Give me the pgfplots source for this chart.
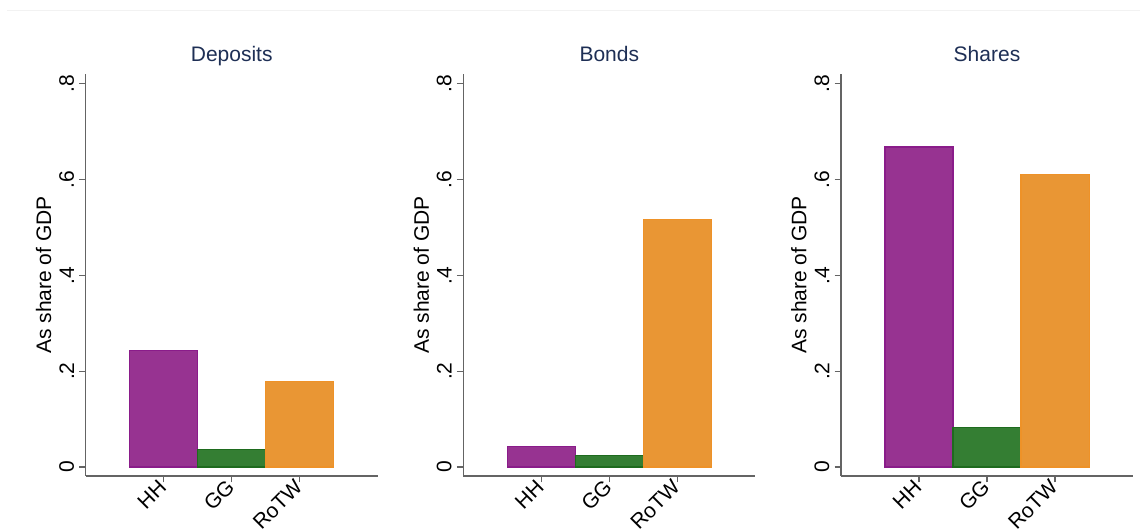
\documentclass[border=0pt]{standalone}
\usepackage{pgfplots}
\pgfplotsset{compat=1.18}
\usepackage{fontspec}
\setmainfont{Liberation Sans}

\definecolor{hhfill}{RGB}{151,51,145}
\definecolor{hhedge}{RGB}{138,28,138}
\definecolor{ggfill}{RGB}{52,126,51}
\definecolor{ggedge}{RGB}{30,107,30}
\definecolor{rwfill}{RGB}{233,150,52}
\definecolor{rwedge}{RGB}{238,146,40}
\definecolor{axisgray}{RGB}{100,100,100}
\definecolor{titlenavy}{RGB}{30,47,85}

\newcommand{\fs}{\fontsize{21pt}{25pt}\selectfont}

\pgfplotsset{
  panel/.style={
    scale only axis,
    anchor=south west,
    width=292pt, height=402pt,
    xmin=-1.145, xmax=3.145,
    ymin=-0.0188, ymax=0.8205,
    axis x line*=bottom, axis y line*=left,
    axis line style={axisgray, line width=1.3pt, -},
    xtick={0,1,2}, xticklabels={HH,GG,RoTW},
    ytick={0,0.2,0.4,0.6,0.8}, yticklabels={0,.2,.4,.6,.8},
    tick align=outside,
    major tick length=6.5pt,
    tick style={axisgray, line width=1.3pt},
    xticklabel style={rotate=45, anchor=east, font=\fs, inner sep=1.5pt},
    yticklabel style={rotate=90, anchor=south, font=\fs, inner sep=5pt},
    ylabel={As share of GDP},
    ylabel style={at={(axis description cs:-0.144,0.5)}, anchor=center, font=\fs},
    title style={at={(0.5,1)}, anchor=base, yshift=6pt, color=titlenavy, font=\fs},
    ybar, bar shift=0pt, bar width=1,
  },
  hh/.style={fill=hhfill, draw=hhedge, line width=1.2pt},
  gg/.style={fill=ggfill, draw=ggedge, line width=1.2pt},
  rw/.style={fill=rwfill, draw=rwedge, line width=1.2pt},
}

\begin{document}
\begin{tikzpicture}
\useasboundingbox (0,0) rectangle (1140pt,532pt);
\fill[white] (0,0) rectangle (1140pt,532pt);
\clip (0,0) rectangle (1140pt,532pt);
\draw[black!5, line width=0.8pt] (7pt,522pt) -- (1140pt,522pt);

% Deposits
\begin{axis}[panel, at={(85.7pt,56pt)}, title={Deposits}]
\addplot[hh] coordinates {(0,0.244)};
\addplot[gg] coordinates {(1,0.036)};
\addplot[rw] coordinates {(2,0.178)};
\end{axis}

% Bonds
\begin{axis}[panel, at={(463.3pt,56pt)}, title={Bonds}]
\addplot[hh] coordinates {(0,0.042)};
\addplot[gg] coordinates {(1,0.024)};
\addplot[rw] coordinates {(2,0.517)};
\end{axis}

% Shares
\begin{axis}[panel, at={(841pt,56pt)}, title={Shares}]
\addplot[hh] coordinates {(0,0.668)};
\addplot[gg] coordinates {(1,0.082)};
\addplot[rw] coordinates {(2,0.610)};
\end{axis}
\end{tikzpicture}
\end{document}
